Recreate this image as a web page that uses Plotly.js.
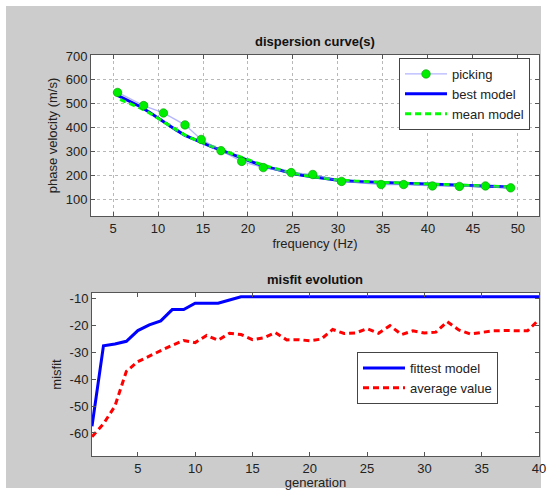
<!DOCTYPE html>
<html>
<head>
<meta charset="utf-8">
<script src="https://cdn.plot.ly/plotly-3.0.1.min.js"></script>
<style>
  html, body { margin: 0; padding: 0; background: #ffffff; }
  #frame { position: absolute; left: 6px; top: 6px; width: 535px; height: 482px; background: #cccccc; }
  #chart { position: absolute; left: 0; top: 0; width: 547px; height: 490px; }
</style>
</head>
<body>
<div id="frame"></div>
<div id="chart"></div>
<script>
// Picked phase velocities (frequency in Hz, velocity in m/s)
const pickFreq = [5.5, 8.4, 10.6, 13.0, 14.8, 17.0, 19.3, 21.7, 24.8, 27.2, 30.4, 34.8, 37.3, 40.5, 43.5, 46.4, 49.2];
const pickVel  = [547, 492, 461, 411, 350, 303, 258, 232, 211, 203, 174, 161, 161, 155, 153, 155, 147];

// Dispersion curve of the best model
const bestFreq = [5.5, 6, 7, 8, 9, 10, 11, 12, 13, 14, 15, 16, 17, 18, 19, 20, 21, 22, 23, 24, 25, 26, 27, 28, 29, 30, 32, 34, 36, 38, 40, 42, 44, 46, 48, 49.2];
const bestVel  = [535, 526, 506, 488, 465, 440, 413, 390, 367, 350, 333, 319, 305, 290, 276, 262, 248, 236, 226, 216, 207, 200, 194, 188, 183, 179, 174, 170, 167, 165, 163, 161, 159, 157, 154, 151];

// Dispersion curve of the mean model
const meanFreq = [5.8, 6, 7, 8, 9, 10, 11, 12, 13, 14, 15, 16, 17, 18, 19, 20, 21, 22, 23, 24, 25, 26, 27, 28, 29, 30, 32, 34, 36, 38, 40, 42, 44, 46, 48, 49.2];
const meanVel  = [518, 514, 498, 482, 462, 438, 413, 391, 368, 351, 335, 321, 307, 292, 279, 265, 251, 238, 228, 218, 209, 201, 195, 189, 184, 180, 175, 171, 168, 165, 163, 161, 159, 157, 154, 151];

// Misfit per generation
const generation = [1, 2, 3, 4, 5, 6, 7, 8, 9, 10, 11, 12, 13, 14, 15, 16, 17, 18, 19, 20, 21, 22, 23, 24, 25, 26, 27, 28, 29, 30, 31, 32, 33, 34, 35, 36, 37, 38, 39, 40];
const fittest = [-57.5, -27.5, -26.8, -25.8, -21.8, -19.7, -18.2, -14.0, -14.0, -11.6, -11.6, -11.6, -10.4, -9.2, -9.2, -9.2, -9.2, -9.2, -9.2, -9.2, -9.2, -9.2, -9.2, -9.2, -9.2, -9.2, -9.2, -9.2, -9.2, -9.2, -9.2, -9.2, -9.2, -9.2, -9.2, -9.2, -9.2, -9.2, -9.2, -9.2];
const average = [-61.4, -56.6, -50.0, -37.0, -33.4, -31.2, -29.3, -27.3, -25.5, -26.3, -23.6, -25.4, -22.8, -23.3, -25.2, -24.5, -22.6, -25.3, -25.2, -25.6, -25.0, -21.4, -22.9, -22.7, -21.1, -22.8, -20.0, -23.3, -21.9, -22.7, -22.4, -18.5, -21.6, -23.1, -22.6, -21.9, -21.8, -21.8, -21.9, -17.7];

// Tick values and labels
const freqTicks = [5, 10, 15, 20, 25, 30, 35, 40, 45, 50];
const velTicks = [100, 200, 300, 400, 500, 600, 700];
const genTicks = [5, 10, 15, 20, 25, 30, 35, 40];
const misfitTicks = [-60, -50, -40, -30, -20, -10];
const misfitTickText = ['-60', '-50', '-40', '-30', '-20', '-10'];

const W = 547, H = 490;
const px = v => v / W;
const py = v => 1 - v / H;

const FONT = 'Liberation Sans, Arial, Helvetica, sans-serif';
const INK = '#222222';
const AXIS = '#555555';
const FS = 13;

const traces = [
  {
    x: bestFreq, y: bestVel, name: 'best model', legendrank: 2,
    type: 'scatter', mode: 'lines', xaxis: 'x', yaxis: 'y', legend: 'legend',
    line: {color: '#0000ff', width: 3}
  },
  {
    x: meanFreq, y: meanVel, name: 'mean model', legendrank: 3,
    type: 'scatter', mode: 'lines', xaxis: 'x', yaxis: 'y', legend: 'legend',
    line: {color: '#00ff00', width: 3, dash: '6px,4px'}
  },
  {
    x: pickFreq, y: pickVel, name: 'picking', legendrank: 1,
    type: 'scatter', mode: 'lines+markers', xaxis: 'x', yaxis: 'y', legend: 'legend',
    line: {color: 'rgba(120,120,255,0.55)', width: 1.3},
    marker: {color: '#00ee00', size: 8.5, line: {color: '#009900', width: 0.6}}
  },
  {
    x: generation, y: fittest, name: 'fittest model',
    type: 'scatter', mode: 'lines', xaxis: 'x2', yaxis: 'y2', legend: 'legend2',
    line: {color: '#0000ff', width: 3}
  },
  {
    x: generation, y: average, name: 'average value',
    type: 'scatter', mode: 'lines', xaxis: 'x2', yaxis: 'y2', legend: 'legend2',
    line: {color: '#ff0000', width: 3, dash: '6px,4px'}
  }
];

const axisCommon = {
  showline: true, linecolor: AXIS, linewidth: 1, mirror: 'ticks',
  ticks: 'inside', ticklen: 4, tickcolor: AXIS, tickwidth: 1,
  zeroline: false, fixedrange: true,
  tickfont: {family: FONT, size: FS, color: INK}
};

const legendCommon = {
  xanchor: 'left', yanchor: 'top',
  bgcolor: '#ffffff', bordercolor: '#444444', borderwidth: 1,
  font: {family: FONT, size: FS, color: INK},
  itemwidth: 42, tracegroupgap: 0, traceorder: 'normal'
};

const layout = {
  width: W, height: H,
  margin: {l: 0, r: 0, t: 0, b: 0},
  paper_bgcolor: 'rgba(0,0,0,0)',
  plot_bgcolor: '#ffffff',
  font: {family: FONT, size: FS, color: INK},
  showlegend: true,
  xaxis: Object.assign({}, axisCommon, {
    domain: [px(91), px(539)], anchor: 'y', range: [2.55, 52.35],
    tickvals: freqTicks,
    showgrid: true, gridcolor: '#b8b8b8', griddash: 'dot', gridwidth: 1,
    title: {text: 'frequency (Hz)', standoff: 2, font: {family: FONT, size: FS, color: INK}}
  }),
  yaxis: Object.assign({}, axisCommon, {
    domain: [py(216), py(55)], anchor: 'x', range: [29, 704],
    tickvals: velTicks,
    showgrid: true, gridcolor: '#b8b8b8', griddash: 'dot', gridwidth: 1,
    title: {text: 'phase velocity (m/s)', standoff: 5, font: {family: FONT, size: FS, color: INK}}
  }),
  xaxis2: Object.assign({}, axisCommon, {
    domain: [px(92), px(539)], anchor: 'y2', range: [1, 40],
    tickvals: genTicks, showgrid: false,
    title: {text: 'generation', standoff: 2, font: {family: FONT, size: FS, color: INK}}
  }),
  yaxis2: Object.assign({}, axisCommon, {
    domain: [py(456), py(293)], anchor: 'x2', range: [-68.6, -7.8],
    tickvals: misfitTicks, ticktext: misfitTickText, showgrid: false,
    title: {text: 'misfit', standoff: 5, font: {family: FONT, size: FS, color: INK}}
  }),
  legend: Object.assign({}, legendCommon, {x: px(399), y: py(58)}),
  legend2: Object.assign({}, legendCommon, {x: px(357), y: py(352)}),
  annotations: [
    {text: '<b>dispersion curve(s)</b>', xref: 'paper', yref: 'paper',
     x: px(315), y: py(41), xanchor: 'center', yanchor: 'middle', showarrow: false,
     font: {family: FONT, size: 13, color: '#111111'}},
    {text: '<b>misfit evolution</b>', xref: 'paper', yref: 'paper',
     x: px(315), y: py(279), xanchor: 'center', yanchor: 'middle', showarrow: false,
     font: {family: FONT, size: 13, color: '#111111'}}
  ]
};

Plotly.newPlot('chart', traces, layout, {displayModeBar: false, staticPlot: true});
</script>
</body>
</html>
